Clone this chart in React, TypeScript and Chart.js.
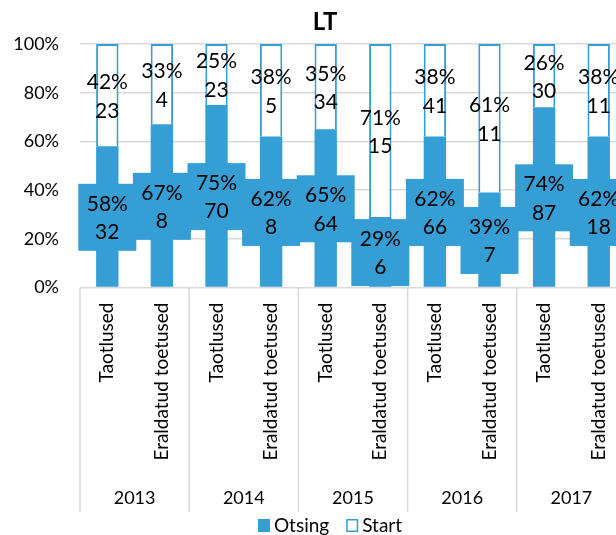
import React, { useEffect, useRef } from 'react';
import { Chart, registerables } from 'chart.js';

Chart.register(...registerables);

const categories = [
  'Taotlused', 'Eraldatud toetused',
  'Taotlused', 'Eraldatud toetused',
  'Taotlused', 'Eraldatud toetused',
  'Taotlused', 'Eraldatud toetused',
  'Taotlused', 'Eraldatud toetused',
];
const years = ['2013', '2014', '2015', '2016', '2017'];
const otsingPct = [58, 67, 75, 62, 65, 29, 62, 39, 74, 62];
const otsingCount = [32, 8, 70, 8, 64, 6, 66, 7, 87, 18];
const startPct = [42, 33, 25, 38, 35, 71, 38, 61, 26, 38];
const startCount = [23, 4, 23, 5, 34, 15, 41, 11, 30, 11];
const yTickLabels = ['0%', '20%', '40%', '60%', '80%', '100%'];
const seriesNames = ['Otsing', 'Start'];
const chartTitle = 'LT';

const BLUE = '#359ED5';
const GRID = '#d9d9d9';
const FONT = 'Lato';

const overlayPlugin = {
  id: 'overlay',
  afterDraw(chart: any) {
    const ctx = chart.ctx as CanvasRenderingContext2D;
    const xs = chart.scales.x;
    const area = chart.chartArea;
    const catW = xs.getPixelForValue(1) - xs.getPixelForValue(0);
    ctx.save();

    // title
    ctx.fillStyle = '#000';
    ctx.textAlign = 'center';
    ctx.textBaseline = 'middle';
    ctx.font = `bold 24px ${FONT}`;
    ctx.fillText(chartTitle, 325, 22.5);

    // data labels
    const sets = [
      { pct: otsingPct, cnt: otsingCount, box: true },
      { pct: startPct, cnt: startCount, box: false },
    ];
    sets.forEach((s, di) => {
      if (!s.box) return;
      const meta = chart.getDatasetMeta(di);
      meta.data.forEach((el: any) => {
        const c = (el.y + el.base) / 2;
        ctx.fillStyle = BLUE;
        ctx.fillRect(el.x - 29, c - 33.5 + 0.8, 58, 67);
      });
    });
    ctx.fillStyle = '#000';
    ctx.textAlign = 'center';
    ctx.textBaseline = 'alphabetic';
    ctx.font = `21px ${FONT}`;
    sets.forEach((s, di) => {
      const meta = chart.getDatasetMeta(di);
      meta.data.forEach((el: any, j: number) => {
        const c = (el.y + el.base) / 2;
        const capHalf = 0.36 * 21;
        ctx.fillText(s.pct[j] + '%', el.x, c - 13.5 + capHalf);
        ctx.fillText(String(s.cnt[j]), el.x, c + 15 + capHalf);
      });
    });

    // year group separators and labels
    ctx.strokeStyle = GRID;
    ctx.lineWidth = 1.5;
    for (let g = 0; g <= years.length; g++) {
      let x: number;
      if (g === years.length) x = xs.getPixelForValue(categories.length - 1) + catW / 2;
      else x = xs.getPixelForValue(g * 2) - catW / 2;
      ctx.beginPath();
      ctx.moveTo(x, area.bottom);
      ctx.lineTo(x, 512);
      ctx.stroke();
    }
    ctx.fillStyle = '#000';
    ctx.font = `18px ${FONT}`;
    ctx.textBaseline = 'middle';
    years.forEach((yr, g) => {
      const x = (xs.getPixelForValue(g * 2) + xs.getPixelForValue(g * 2 + 1)) / 2;
      ctx.fillText(yr, x, 498);
    });

    // legend
    ctx.font = `19px ${FONT}`;
    ctx.textAlign = 'left';
    const boxW = 12, boxH = 13, gap = 4, itemGap = 17;
    const widths = seriesNames.map((n) => ctx.measureText(n).width);
    const total = widths.reduce((a, w) => a + boxW + gap + w, 0) + itemGap * (seriesNames.length - 1);
    let lx = 330 - total / 2;
    const ly = 525.5;
    seriesNames.forEach((n, i) => {
      if (i === 0) {
        ctx.fillStyle = BLUE;
        ctx.fillRect(lx, ly - boxH / 2, boxW, boxH);
      } else {
        ctx.fillStyle = '#fff';
        ctx.fillRect(lx, ly - boxH / 2, boxW, boxH);
        ctx.strokeStyle = BLUE;
        ctx.lineWidth = 1.5;
        ctx.strokeRect(lx + 0.75, ly - boxH / 2 + 0.75, boxW - 1.5, boxH - 1.5);
      }
      ctx.fillStyle = '#000';
      ctx.fillText(n, lx + boxW + gap, ly);
      lx += boxW + gap + widths[i] + itemGap;
    });
    ctx.restore();
  },
};

export default function App() {
  const ref = useRef<HTMLCanvasElement | null>(null);
  useEffect(() => {
    if (!ref.current) return;
    const chart = new Chart(ref.current, {
      type: 'bar',
      data: {
        labels: categories,
        datasets: [
          {
            label: seriesNames[0],
            data: otsingPct,
            backgroundColor: BLUE,
            borderWidth: 0,
            barPercentage: 0.41,
            categoryPercentage: 1,
          },
          {
            label: seriesNames[1],
            data: startPct,
            backgroundColor: '#ffffff',
            borderColor: BLUE,
            borderWidth: 2,
            barPercentage: 0.41,
            categoryPercentage: 1,
          },
        ],
      },
      options: {
        responsive: false,
        animation: false,
        devicePixelRatio: 1,
        layout: { padding: { left: 0, right: 24, top: 44, bottom: 0 } },
        plugins: {
          legend: { display: false },
          tooltip: { enabled: false },
          title: { display: false },
        },
        scales: {
          x: {
            stacked: true,
            grid: { display: false, drawTicks: false },
            border: { display: false },
            ticks: {
              autoSkip: false,
              minRotation: 90,
              maxRotation: 90,
              padding: 15,
              color: '#000',
              font: { family: FONT, size: 19 },
            },
            afterFit: (s: any) => { s.height = 247.5; },
          },
          y: {
            stacked: true,
            min: 0,
            max: 100,
            ticks: {
              stepSize: 20,
              padding: 21,
              color: '#000',
              font: { family: FONT, size: 18 },
              callback: (_v: any, i: number) => yTickLabels[i],
            },
            grid: { color: GRID, lineWidth: 1.5, drawTicks: false },
            border: { display: false },
            afterFit: (s: any) => { s.width = 80; },
          },
        },
      } as any,
      plugins: [overlayPlugin],
    });
    return () => chart.destroy();
  }, []);
  return (
    <div style={{ position: 'fixed', left: 0, top: 0, width: 616, height: 535, overflow: 'hidden', background: '#fff' }}>
      <canvas ref={ref} width={650} height={535} style={{ display: 'block' }} />
    </div>
  );
}
